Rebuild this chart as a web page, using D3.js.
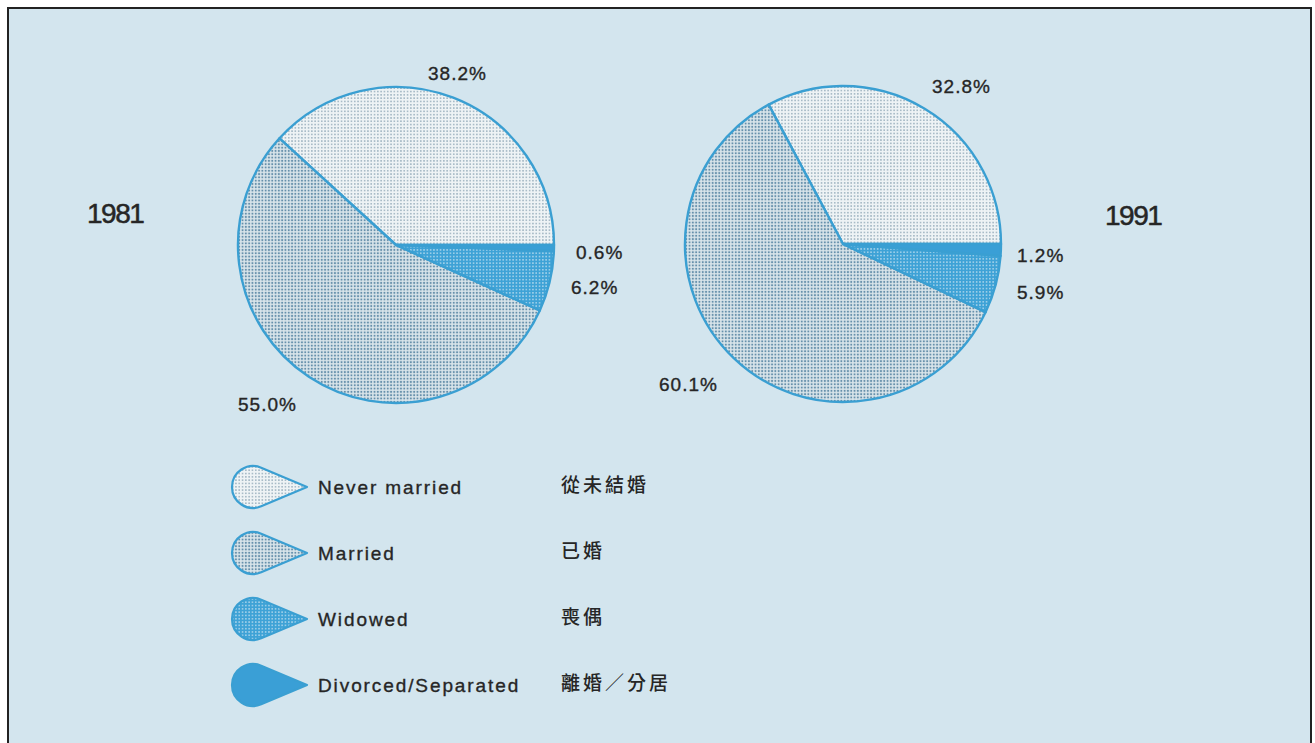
<!DOCTYPE html>
<html>
<head>
<meta charset="utf-8">
<script src="https://cdn.jsdelivr.net/npm/d3@7"></script>
<style>
  html, body { margin: 0; padding: 0; background: #ffffff; }
  svg { display: block; }
</style>
</head>
<body>
<svg id="chart" width="1315" height="743"></svg>
<script>
// ---- data ----
const categories = ["Never married", "Married", "Widowed", "Divorced/Separated"];
const categoriesZh = ["從未結婚", "已婚", "喪偶", "離婚／分居"];
const years = ["1981", "1991"];
const values1981 = [38.2, 55.0, 6.2, 0.6];
const values1991 = [32.8, 60.1, 5.9, 1.2];

// ---- layout / style ----
const W = 1315, H = 743;
const svg = d3.select("#chart");
const latin = "'Liberation Sans', Arial, Helvetica, sans-serif";
const cjk = "'Noto Sans CJK TC', 'Noto Sans CJK SC', sans-serif";
const strokeBlue = "#3a9fd2";
const textColor = "#262626";

// patterns (halftone-like dots)
const defs = svg.append("defs");
const patternSpecs = [
  { id: "p0", bg: "#eef3f5", dot: "#8aa3b3", r: 0.75, s: 3.3 },
  { id: "p1", bg: "#d8e4ea", dot: "#6590ab", r: 1.05, s: 3.3 },
  { id: "p2", bg: "#3ea2d6", dot: "#b9dcef", r: 0.8, s: 3.3 },
  { id: "p3", bg: "#3a9fd6", dot: "#3a9fd6", r: 0, s: 3.3 }
];
patternSpecs.forEach(p => {
  const pat = defs.append("pattern").attr("id", p.id)
    .attr("patternUnits", "userSpaceOnUse").attr("width", p.s).attr("height", p.s);
  pat.append("rect").attr("width", p.s).attr("height", p.s).attr("fill", p.bg);
  if (p.r > 0) pat.append("circle").attr("cx", p.s / 2).attr("cy", p.s / 2).attr("r", p.r).attr("fill", p.dot);
});
const fillScale = d3.scaleOrdinal().domain(categories).range(patternSpecs.map(p => `url(#${p.id})`));

// background panel with frame
svg.append("rect").attr("x", 0).attr("y", 0).attr("width", W).attr("height", H).attr("fill", "#ffffff");
svg.append("rect").attr("x", 8).attr("y", 8).attr("width", 1303).attr("height", 760)
  .attr("fill", "#d3e5ee").attr("stroke", "#222").attr("stroke-width", 2);

// ---- pies ----
const pie = d3.pie().sort(null).value(d => d.v)
  .startAngle(Math.PI / 2).endAngle(Math.PI / 2 - 2 * Math.PI);
const R = 158;
const arc = d3.arc().innerRadius(0).outerRadius(R);

const pies = [
  { year: years[0], values: values1981, cx: 396, cy: 245,
    yearPos: [87, 223],
    labelPos: [[428, 80], [238, 411], [571, 294], [576, 259]] },
  { year: years[1], values: values1991, cx: 843, cy: 244,
    yearPos: [1105, 225],
    labelPos: [[932, 93], [659, 391], [1017, 299], [1017, 262]] }
];

pies.forEach(p => {
  const data = categories.map((c, i) => ({ c, v: p.values[i] }));
  const g = svg.append("g").attr("transform", `translate(${p.cx},${p.cy})`);
  g.selectAll("path").data(pie(data)).join("path")
    .attr("d", arc)
    .attr("fill", d => fillScale(d.data.c))
    .attr("stroke", strokeBlue)
    .attr("stroke-width", 2.4)
    .attr("stroke-linejoin", "round");

  // percent labels
  data.forEach((d, i) => {
    svg.append("text")
      .attr("x", p.labelPos[i][0]).attr("y", p.labelPos[i][1])
      .attr("font-family", latin).attr("font-size", 19)
      .attr("letter-spacing", 1)
      .attr("fill", textColor)
      .attr("stroke", textColor).attr("stroke-width", 0.35)
      .text(d3.format(".1f")(d.v) + "%");
  });

  // year label
  svg.append("text")
    .attr("x", p.yearPos[0]).attr("y", p.yearPos[1])
    .attr("font-family", latin).attr("font-size", 28)
    .attr("letter-spacing", -1.5)
    .attr("fill", textColor)
    .attr("stroke", textColor).attr("stroke-width", 0.5)
    .text(p.year);
});

// ---- legend ----
const rowY = d3.scalePoint().domain(categories).range([487, 685]);
const iconR = 21, iconCx = 253, tipX = 307;
function dropPath(cy) {
  const d = tipX - iconCx;
  const a = Math.acos(iconR / d);
  const t1x = iconCx + iconR * Math.cos(a), t1y = cy - iconR * Math.sin(a);
  const t2x = iconCx + iconR * Math.cos(a), t2y = cy + iconR * Math.sin(a);
  return `M${tipX},${cy} L${t1x},${t1y} A${iconR},${iconR} 0 1 0 ${t2x},${t2y} Z`;
}
const leg = svg.append("g");
categories.forEach((c, i) => {
  const cy = rowY(c);
  leg.append("path").attr("d", dropPath(cy))
    .attr("fill", fillScale(c))
    .attr("stroke", strokeBlue).attr("stroke-width", 2.2)
    .attr("stroke-linejoin", "round");
  leg.append("text").attr("x", 318).attr("y", cy + 7)
    .attr("font-family", latin).attr("font-size", 19)
    .attr("letter-spacing", 1.9)
    .attr("fill", textColor)
    .attr("stroke", textColor).attr("stroke-width", 0.35)
    .text(c);
  leg.append("text").attr("x", 561).attr("y", cy + 5)
    .attr("font-family", cjk).attr("font-size", 19).attr("font-weight", 500)
    .attr("letter-spacing", 3)
    .attr("fill", textColor).text(categoriesZh[i]);
});
</script>
</body>
</html>
